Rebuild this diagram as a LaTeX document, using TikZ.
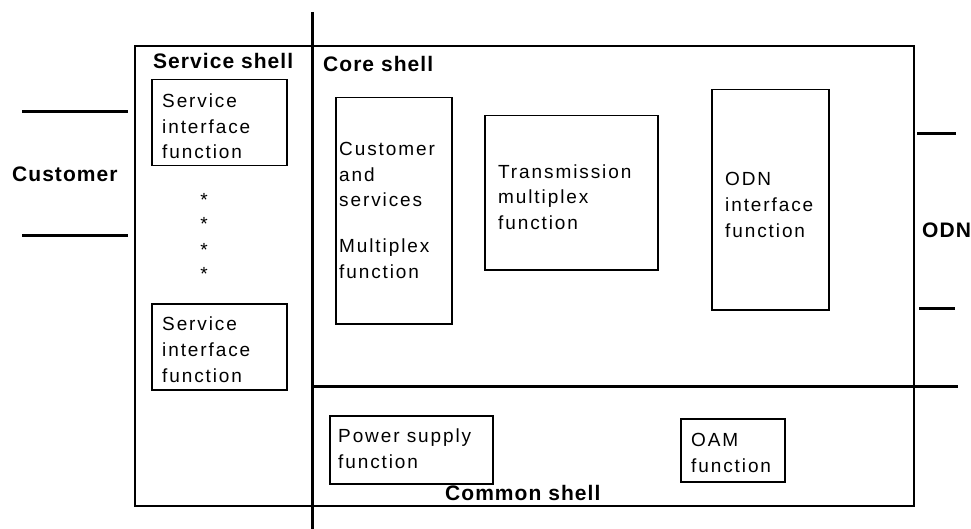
\documentclass[tikz,border=0pt]{standalone}
\usepackage{fontspec}
\setmainfont{Liberation Sans}[LetterSpace=10,BoldFeatures={LetterSpace=5}]
\begin{document}
\begin{tikzpicture}[x=1pt,y=-1pt,
  box/.style={draw,line width=1.5pt,inner sep=0pt,anchor=north west},
  txt/.style={inner sep=0pt,anchor=base west,align=left,font=\fontsize{19}{25.7}\selectfont},
  lbl/.style={inner sep=0pt,anchor=base west,font=\fontsize{21}{25}\selectfont\bfseries},
  star/.style={inner sep=0pt,anchor=base,font=\fontsize{19}{25}\selectfont},
  thin/.style={line width=1.5pt},
  thick/.style={line width=3pt}]
\useasboundingbox (0,0) rectangle (971,529);
% outer frame
\draw[thin] (135,46) rectangle (914,506);
% shell dividers
\coordinate (vtop) at (312,12);
\coordinate (vbot) at (312,529);
\coordinate (hl) at (312,386);
\coordinate (hr) at (958,386);
\draw[thick] (vtop) -- (vbot);
\draw[thick] (hl) -- (hr);
% customer lines
\coordinate (c1a) at (22,112); \coordinate (c1b) at (128,112);
\coordinate (c2a) at (22,236); \coordinate (c2b) at (128,236);
\draw[thick] (c1a) -- (c1b);
\draw[thick] (c2a) -- (c2b);
% ODN lines
\coordinate (o1a) at (917,134); \coordinate (o1b) at (956,134);
\coordinate (o2a) at (919,308); \coordinate (o2b) at (955,308);
\draw[thick] (o1a) -- (o1b);
\draw[thick] (o2a) -- (o2b);
% labels
\node[lbl] (customer) at (12,182) {Customer};
\node[lbl] (odn) at (922,237) {ODN};
\node[lbl] (svcshell) at (153,69) {Service shell};
\node[lbl] (coreshell) at (323,72) {Core shell};
\node[lbl] (commonshell) at (445,500) {Common shell};
% boxes
\node[box,minimum width=135pt,minimum height=86pt] (sif1) at (151,79) {};
\node[box,minimum width=135pt,minimum height=86pt] (sif2) at (151,303) {};
\node[box,minimum width=116pt,minimum height=226pt] (cms) at (335,97) {};
\node[box,minimum width=173pt,minimum height=154pt] (tmf) at (484,115) {};
\node[box,minimum width=117pt,minimum height=220pt] (odnif) at (711,89) {};
\node[box,minimum width=163pt,minimum height=68pt] (psf) at (329,415) {};
\node[box,minimum width=104pt,minimum height=63pt] (oam) at (680,418) {};
% box texts (anchored at the baseline of the last line)
\node[txt] (sif1t) at (162,159) {Service\\interface\\function};
\node[txt] (sif2t) at (162,382) {Service\\interface\\function};
\node[txt] (cmst1) at (339,207) {Customer\\and\\services};
\node[txt] (cmst2) at (339,278) {Multiplex\\function};
\node[txt] (tmft) at (498,229.5) {Transmission\\multiplex\\function};
\node[txt] (odnift) at (725,237) {ODN\\interface\\function};
\node[txt] (psft) at (338,468) {Power supply\\function};
\node[txt] (oamt) at (691,472) {OAM\\function};
% stars
\node[star] (s1) at (204,207) {*};
\node[star] (s2) at (204,231) {*};
\node[star] (s3) at (204,256) {*};
\node[star] (s4) at (204,280) {*};
\end{tikzpicture}
\end{document}
